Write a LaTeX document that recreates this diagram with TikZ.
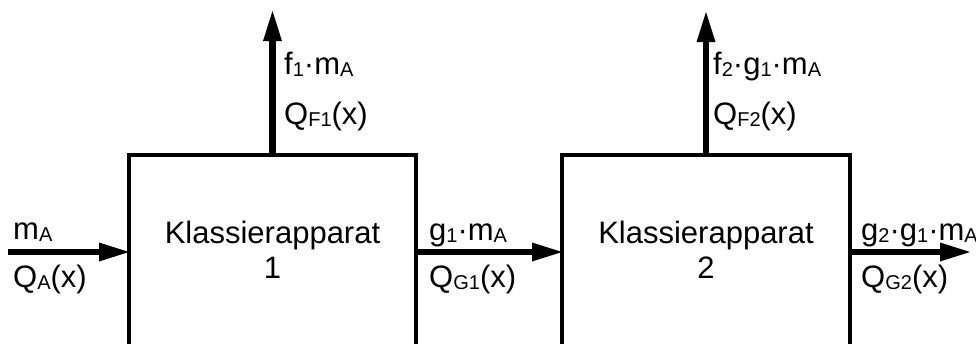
\documentclass[tikz,border=0pt]{standalone}
\usepackage{fontspec}
\setmainfont{Liberation Sans}
\usetikzlibrary{arrows.meta}
\newcommand{\sbs}[1]{\raisebox{-2pt}{\fontsize{20}{20}\selectfont #1}}
\begin{document}
\begin{tikzpicture}[x=1pt,y=-1pt,
  box/.style={draw,line width=3.5pt,minimum width=287pt,minimum height=194pt,inner sep=0pt,outer sep=0pt,anchor=north west},
  flow/.style={line width=6.5pt,-{Triangle[length=30pt,width=19pt,line width'=0pt]}},
  lbl/.style={anchor=base west,inner sep=0pt,font=\fontsize{31}{36}\selectfont},
  ttl/.style={anchor=base,inner sep=0pt,font=\fontsize{31}{36}\selectfont}]
\useasboundingbox (0,0) rectangle (976,343);
\clip (0,0) rectangle (976,343);
\node[box] (box1) at (129,155) {};
\node[box,minimum width=288pt] (box2) at (562,155) {};
\coordinate (in) at (8,252);
\coordinate (top1) at (box1.north |- 0,11);
\coordinate (top2) at (box2.north |- 0,12);
\coordinate (out) at (970,252);
\draw[flow] (in) -- (box1.west);
\draw[flow] (box1.east) -- (box2.west);
\draw[flow] (box2.east) -- (out);
\draw[flow] (box1.north) -- (top1);
\draw[flow] (box2.north) -- (top2);
\node[ttl] (t1a) at (272.5,243) {Klassierapparat};
\node[ttl] (t1b) at (272.5,278) {1};
\node[ttl] (t2a) at (706,243) {Klassierapparat};
\node[ttl] (t2b) at (706,278) {2};
\node[lbl] (la1) at (13,239) {m\sbs{A}};
\node[lbl] (la2) at (13,287) {Q\sbs{A}(x)};
\node[lbl] (lf1a) at (284,74) {f\sbs{1}·m\sbs{A}};
\node[lbl] (lf1b) at (284,124) {Q\sbs{F1}(x)};
\node[lbl] (lg1a) at (429,240) {g\sbs{1}·m\sbs{A}};
\node[lbl] (lg1b) at (429,287) {Q\sbs{G1}(x)};
\node[lbl] (lf2a) at (713,74) {f\sbs{2}·g\sbs{1}·m\sbs{A}};
\node[lbl] (lf2b) at (713,124) {Q\sbs{F2}(x)};
\node[lbl] (lg2a) at (861,240) {g\sbs{2}·g\sbs{1}·m\sbs{A}};
\node[lbl] (lg2b) at (861,287) {Q\sbs{G2}(x)};
\end{tikzpicture}
\end{document}
